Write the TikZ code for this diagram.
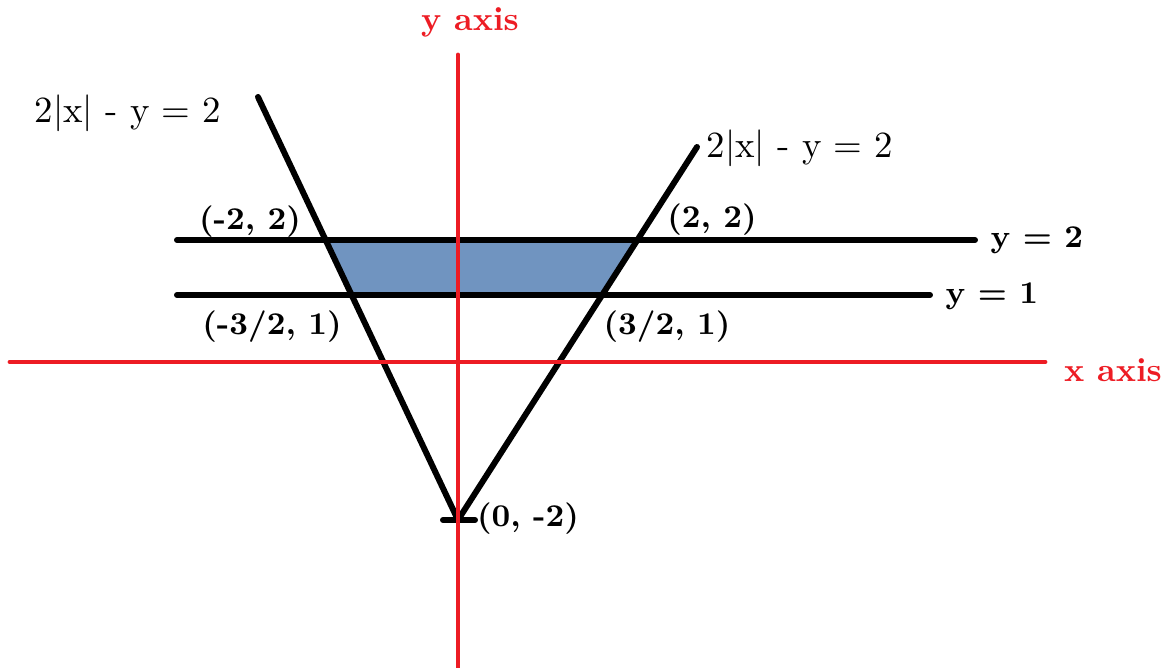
\documentclass[tikz,border=0pt]{standalone}
\usepackage{tikz}
\usetikzlibrary{calc}
\definecolor{axisred}{RGB}{237,28,36}
\definecolor{regionblue}{RGB}{112,148,192}

\begin{document}
\begin{tikzpicture}[>=stealth,
  axisline/.style={axisred, line width=1.4pt, line cap=round},
  graphline/.style={black, line width=1.7pt, line cap=round},
  ptlabel/.style={font=\fontsize{9}{11}\selectfont\bfseries},
  eqlabel/.style={font=\fontsize{10.5}{12}\selectfont},
  axislabel/.style={text=axisred, font=\fontsize{9.5}{12}\selectfont\bfseries}]
  \useasboundingbox (-4.58,-3.06) rectangle (7.11,3.62);

  % the V of 2|x| - y = 2
  \coordinate (V) at (0,-1.58);
  \coordinate (L) at (-2.00,2.65);
  \coordinate (R) at (2.39,2.15);
  \coordinate (VL) at (-0.15,-1.58);
  \coordinate (VR) at (0.17,-1.58);
  % the lines y = 2 and y = 1
  \coordinate (A2) at (-2.81,1.22);
  \coordinate (B2) at (5.17,1.22);
  \coordinate (A1) at (-2.81,0.67);
  \coordinate (B1) at (4.72,0.67);
  % corners of the shaded region
  \coordinate (P) at ($(V)!0.662!(L)$);
  \coordinate (Q) at ($(V)!0.532!(L)$);
  \coordinate (S) at ($(V)!0.751!(R)$);
  \coordinate (T) at ($(V)!0.603!(R)$);
  % axes
  \coordinate (xl) at (-4.48,0);
  \coordinate (xr) at (5.87,0);
  \coordinate (yt) at (0,3.07);
  \coordinate (yb) at (0,-3.10);

  \fill[regionblue] (P) -- (S) -- (T) -- (Q) -- cycle;
  \draw[graphline] (L) -- (V) -- (R);
  \draw[graphline] (VL) -- (VR);
  \draw[graphline] (A2) -- (B2);
  \draw[graphline] (A1) -- (B1);
  \draw[axisline] (xl) -- (xr);
  \draw[axisline] (yb) -- (yt);

  \node[axislabel] (ylab) at (0.12,3.40) {y axis};
  \node[axislabel] (xlab) at (6.55,-0.08) {x axis};
  \node[eqlabel] (eqL) at (-3.30,2.49) {2|x| - y = 2};
  \node[eqlabel] (eqR) at (3.42,2.14) {2|x| - y = 2};

  \node[ptlabel] (pA) at (-2.08,1.40) {(-2, 2)};
  \node[ptlabel] (pB) at (2.54,1.42) {(2, 2)};
  \node[ptlabel] (pC) at (-1.86,0.35) {(-3/2, 1)};
  \node[ptlabel] (pD) at (2.09,0.35) {(3/2, 1)};
  \node[ptlabel] (pV) at (0.70,-1.57) {(0, -2)};
  \node[ptlabel, anchor=west, inner sep=0pt] (l2) at (5.32,1.22) {y = 2};
  \node[ptlabel, anchor=west, inner sep=0pt] (l1) at (4.87,0.66) {y = 1};
\end{tikzpicture}
\end{document}
